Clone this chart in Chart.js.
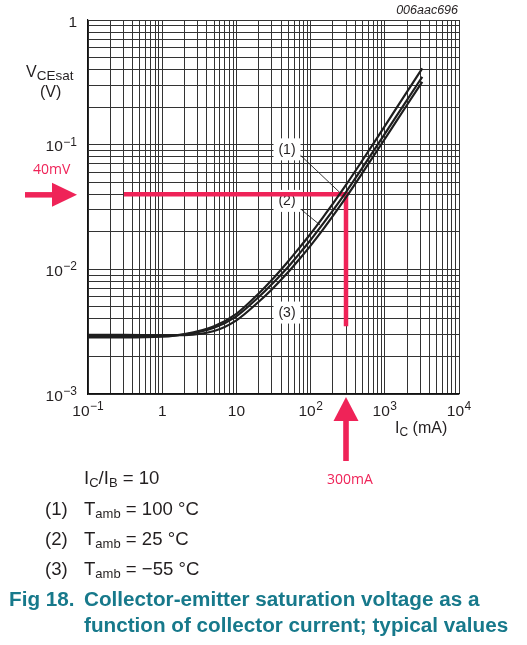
<!DOCTYPE html>
<html><head><meta charset="utf-8">
<script src="https://cdn.jsdelivr.net/npm/chart.js@4.4.1/dist/chart.umd.min.js"></script>
<style>
html,body{margin:0;padding:0;background:#fff;}
#wrap{position:relative;width:527px;height:645px;overflow:hidden;font-family:"Liberation Sans",Arial,sans-serif;color:#231f20;}
canvas{position:absolute;left:0;top:0;}
.t{position:absolute;white-space:nowrap;line-height:1;}
.red{font-family:"Open Sans","Noto Sans",sans-serif;color:#ef2358;font-size:14px;}
.cap{font-weight:bold;color:#17798b;font-size:20.7px;}
.n{font-size:18.6px;}
.n .s{font-size:13px;position:relative;top:3px;}
</style></head>
<body><div id="wrap">
<canvas id="c" width="527" height="645"></canvas>
<div class="t" style="right:69px;top:4px;font-style:italic;font-size:12.5px;">006aac696</div>
<div class="t" style="left:26px;top:64px;font-size:16px;">V<span style="font-size:13.5px;position:relative;top:3px;">CEsat</span></div>
<div class="t" style="left:40px;top:84px;font-size:16px;">(V)</div>
<div class="t" style="left:395px;top:420px;font-size:16px;">I<span style="font-size:12px;position:relative;top:3px;">C</span> (mA)</div>
<div class="t red" style="left:33px;top:162px;">40mV</div>
<div class="t red" style="left:327px;top:472px;">300mA</div>
<div class="t n" style="left:84px;top:469px;">I<span class="s">C</span>/I<span class="s">B</span> = 10</div>
<div class="t n" style="left:45px;top:500px;">(1)</div>
<div class="t n" style="left:84px;top:500px;">T<span class="s">amb</span> = 100 °C</div>
<div class="t n" style="left:45px;top:530px;">(2)</div>
<div class="t n" style="left:84px;top:530px;">T<span class="s">amb</span> = 25 °C</div>
<div class="t n" style="left:45px;top:560px;">(3)</div>
<div class="t n" style="left:84px;top:560px;">T<span class="s">amb</span> = −55 °C</div>
<div class="t cap" style="left:9px;top:589px;">Fig 18.</div>
<div class="t cap" style="left:84px;top:589px;">Collector-emitter saturation voltage as a</div>
<div class="t cap" style="left:84px;top:615px;">function of collector current; typical values</div>
</div>
<script>
// ---- data ----
const currentsMA = [0.1, 0.3, 1, 2, 5, 10, 20, 30, 50, 70, 100, 150, 200, 300, 500, 1000, 2000, 3200];
const vce100C   = [0.00284, 0.00284, 0.00288, 0.00302, 0.0035, 0.0044, 0.0064, 0.0082, 0.0116, 0.0148, 0.0193, 0.0266, 0.0336, 0.0475, 0.0750, 0.141, 0.266, 0.409];
const vce25C    = [0.00293, 0.00293, 0.00293, 0.00300, 0.0034, 0.0042, 0.0060, 0.0076, 0.0105, 0.0133, 0.0172, 0.0236, 0.0297, 0.0417, 0.0654, 0.122, 0.229, 0.350];
const vceM55C   = [0.00298, 0.00298, 0.00296, 0.00297, 0.0032, 0.0039, 0.0055, 0.0069, 0.0095, 0.0120, 0.0155, 0.0212, 0.0268, 0.0378, 0.0594, 0.111, 0.209, 0.319];
const seriesNames = ['(1) Tamb = 100 °C', '(2) Tamb = 25 °C', '(3) Tamb = −55 °C'];

const xDecades = [0.1, 1, 10, 100, 1000, 10000];
const xTickBase = ['10', '1', '10', '10', '10', '10'];
const xTickExp  = ['−1', '', '', '2', '3', '4'];
const yDecades = [0.001, 0.01, 0.1, 1];
const yTickBase = ['10', '10', '10', '1'];
const yTickExp  = ['−3', '−2', '−1', ''];

const markerCurrentMA = 300;
const markerVoltageV = 0.04;
const markerLineFromMA = 0.305;
const markerLineToV = 0.0035;

const curveLabelText = ['(1)', '(2)', '(3)'];
const curveLabelI = [48.1, 48.1, 48.1];
const curveLabelV = [0.0917, 0.0354, 0.0045];
const leaderFromI = [69.8, 75.9];
const leaderFromV = [0.0844, 0.02995];
const leaderToI = [249, 133.9];
const leaderToV = [0.0412, 0.02268];

// ---- helpers ----
const RED = '#ef2358';
const INK = '#231f20';
function pts(vals){ return currentsMA.map((c,i)=>({x:c, y:vals[i]})); }
function gridValues(lo, hi){
  const out=[];
  for(let e=lo;e<hi;e++){ for(let m=1;m<=9;m++){ out.push(+(m*Math.pow(10,e)).toPrecision(6)); } }
  out.push(Math.pow(10,hi));
  return out;
}
function drawPow(ctx, base, exp, x, y, align){
  const MAIN='15.5px "Liberation Sans", Arial, sans-serif';
  const EXP='12px "Liberation Sans", Arial, sans-serif';
  ctx.font=MAIN; const wb=ctx.measureText(base).width;
  let we=0; if(exp){ ctx.font=EXP; we=ctx.measureText(exp).width+0.5; }
  const total=wb+we;
  let x0 = align==='center' ? x-total/2 : (align==='right' ? x-total : x);
  ctx.textAlign='left'; ctx.textBaseline='alphabetic'; ctx.fillStyle=INK;
  ctx.font=MAIN; ctx.fillText(base, x0, y);
  if(exp){ ctx.font=EXP; ctx.fillText(exp, x0+wb+0.5, y-5.5); }
}

const decor = {
  id:'decor',
  beforeDatasetsDraw(chart){
    const {ctx, scales:{x, y}} = chart;
    ctx.save();
    // leader lines
    ctx.strokeStyle='#222'; ctx.lineWidth=0.9;
    for(let i=0;i<leaderFromI.length;i++){
      ctx.beginPath();
      ctx.moveTo(x.getPixelForValue(leaderFromI[i]), y.getPixelForValue(leaderFromV[i]));
      ctx.lineTo(x.getPixelForValue(leaderToI[i]), y.getPixelForValue(leaderToV[i]));
      ctx.stroke();
    }
    // curve labels with white boxes
    ctx.font='14px "Liberation Sans", Arial, sans-serif';
    ctx.textAlign='center'; ctx.textBaseline='middle';
    for(let i=0;i<curveLabelText.length;i++){
      const px=x.getPixelForValue(curveLabelI[i]), py=y.getPixelForValue(curveLabelV[i]);
      ctx.fillStyle='#fff'; ctx.fillRect(px-13.5, py-11, 27, 22);
      ctx.fillStyle=INK; ctx.fillText(curveLabelText[i], px, py+0.5);
    }
    ctx.restore();
  },
  afterDraw(chart){
    const {ctx, scales:{x, y}, chartArea:a} = chart;
    ctx.save();
    // tick labels
    xDecades.forEach((v,i)=>drawPow(ctx, xTickBase[i], xTickExp[i], x.getPixelForValue(v), a.bottom+21.8, 'center'));
    yDecades.forEach((v,i)=>drawPow(ctx, yTickBase[i], yTickExp[i], a.left-11, y.getPixelForValue(v)+6.5, 'right'));
    // red arrows
    ctx.fillStyle=RED;
    const ym=y.getPixelForValue(markerVoltageV);
    ctx.fillRect(25, ym-2.2, 28, 5.5);
    ctx.beginPath(); ctx.moveTo(52, ym-11.5); ctx.lineTo(77, ym+0.5); ctx.lineTo(52, ym+12.5); ctx.closePath(); ctx.fill();
    const xm=x.getPixelForValue(markerCurrentMA);
    ctx.beginPath(); ctx.moveTo(xm, a.bottom+3); ctx.lineTo(xm+12.5, a.bottom+27); ctx.lineTo(xm-12.5, a.bottom+27); ctx.closePath(); ctx.fill();
    ctx.fillRect(xm-2.8, a.bottom+26, 5.6, 41);
    ctx.restore();
  }
};

const lineStyle = {borderColor:'#1e1e1e', borderWidth:2.2, pointRadius:0, cubicInterpolationMode:'monotone', fill:false};

new Chart(document.getElementById('c'), {
  type:'line',
  data:{ datasets:[
    Object.assign({label:seriesNames[0], data:pts(vce100C)}, lineStyle),
    Object.assign({label:seriesNames[1], data:pts(vce25C)}, lineStyle),
    Object.assign({label:seriesNames[2], data:pts(vceM55C)}, lineStyle),
    {label:'40 mV @ 300 mA', data:[{x:markerLineFromMA,y:markerVoltageV},{x:markerCurrentMA,y:markerVoltageV},{x:markerCurrentMA,y:markerLineToV}],
     borderColor:RED, borderWidth:4.5, pointRadius:0, tension:0, borderJoinStyle:'miter', borderCapStyle:'butt', fill:false}
  ]},
  options:{
    responsive:false, animation:false, events:[],
    layout:{padding:{left:88, right:68, top:20, bottom:251}},
    plugins:{legend:{display:false}, tooltip:{enabled:false}},
    scales:{
      x:{type:'logarithmic', min:0.1, max:10000,
         afterBuildTicks:(s)=>{ s.ticks = gridValues(-1,4).map(v=>({value:v})); },
         ticks:{display:false}, grid:{color:'#333', lineWidth:1, drawTicks:false},
         border:{display:true, color:'#111', width:1.2}},
      y:{type:'logarithmic', min:0.001, max:1,
         afterBuildTicks:(s)=>{ s.ticks = gridValues(-3,0).map(v=>({value:v})); },
         ticks:{display:false}, grid:{color:'#333', lineWidth:1, drawTicks:false},
         border:{display:true, color:'#111', width:1.2}}
    }
  },
  plugins:[decor]
});
</script>
</body></html>
